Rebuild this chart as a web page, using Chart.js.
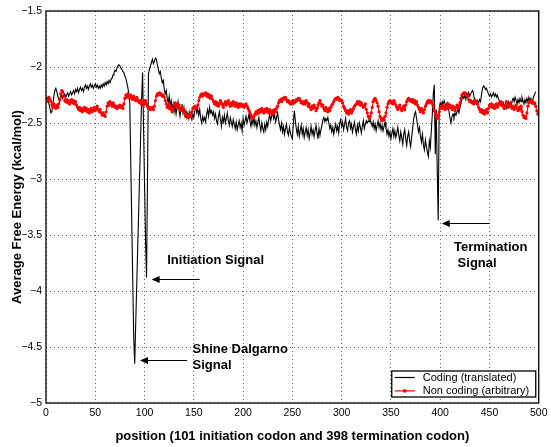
<!DOCTYPE html>
<html>
<head>
<meta charset="utf-8">
<script src="https://cdn.jsdelivr.net/npm/chart.js@4.4.1/dist/chart.umd.min.js"></script>
<style>
  html, body { margin: 0; padding: 0; background: #fff; }
  #wrap { width: 551px; height: 447px; }
</style>
</head>
<body>
<div id="wrap"><canvas id="energyChart" width="551" height="447"></canvas></div>
<script>
// average free energy (kcal/mol), one value per position, starting at position 1
const codingEnergy = [
  -2.32, -2.28, -2.33, -2.37, -2.41, -2.40, -2.33, -2.26, -2.21, -2.19,
  -2.22, -2.26, -2.29, -2.31, -2.28, -2.25, -2.28, -2.25, -2.24, -2.27,
  -2.25, -2.23, -2.26, -2.24, -2.22, -2.25, -2.23, -2.21, -2.24, -2.20,
  -2.22, -2.19, -2.23, -2.20, -2.18, -2.21, -2.19, -2.22, -2.18, -2.16,
  -2.19, -2.17, -2.20, -2.17, -2.15, -2.18, -2.16, -2.19, -2.17, -2.15,
  -2.18, -2.16, -2.19, -2.17, -2.19, -2.16, -2.18, -2.15, -2.17, -2.14,
  -2.16, -2.13, -2.15, -2.12, -2.14, -2.11, -2.10, -2.07, -2.05, -2.03,
  -2.04, -2.01, -1.99, -1.98, -1.99, -2.01, -2.02, -2.04, -2.05, -2.08,
  -2.10, -2.14, -2.18, -2.24, -2.32, -2.85, -3.37, -3.89, -4.41, -4.65,
  -4.30, -3.97, -3.63, -3.30, -2.97, -2.63, -2.30, -2.05, -2.55, -3.05,
  -3.55, -3.88, -2.98, -2.06, -2.02, -1.99, -1.96, -1.93, -1.97, -1.95,
  -1.92, -1.93, -1.98, -2.02, -2.06, -2.04, -2.10, -2.14, -2.12, -2.20,
  -2.24, -2.21, -2.28, -2.32, -2.26, -2.35, -2.30, -2.38, -2.33, -2.40,
  -2.34, -2.42, -2.36, -2.31, -2.39, -2.44, -2.37, -2.33, -2.41, -2.36,
  -2.43, -2.39, -2.45, -2.41, -2.46, -2.40, -2.44, -2.47, -2.42, -2.45,
  -2.39, -2.36, -2.41, -2.37, -2.43, -2.38, -2.46, -2.50, -2.44, -2.48,
  -2.45, -2.49, -2.42, -2.38, -2.44, -2.36, -2.41, -2.39, -2.43, -2.40,
  -2.46, -2.42, -2.48, -2.51, -2.44, -2.40, -2.47, -2.53, -2.45, -2.49,
  -2.43, -2.50, -2.46, -2.41, -2.48, -2.52, -2.45, -2.49, -2.53, -2.47,
  -2.51, -2.55, -2.49, -2.56, -2.52, -2.48, -2.54, -2.50, -2.57, -2.46,
  -2.52, -2.48, -2.44, -2.50, -2.46, -2.42, -2.49, -2.53, -2.47, -2.51,
  -2.45, -2.52, -2.48, -2.54, -2.49, -2.45, -2.52, -2.57, -2.50, -2.55,
  -2.58, -2.51, -2.56, -2.49, -2.53, -2.47, -2.42, -2.48, -2.44, -2.40,
  -2.46, -2.43, -2.49, -2.45, -2.41, -2.47, -2.52, -2.56, -2.50, -2.58,
  -2.53, -2.60, -2.55, -2.51, -2.58, -2.61, -2.54, -2.59, -2.62, -2.64,
  -2.50, -2.39, -2.48, -2.55, -2.60, -2.53, -2.62, -2.57, -2.52, -2.60,
  -2.55, -2.63, -2.58, -2.54, -2.61, -2.56, -2.64, -2.59, -2.53, -2.60,
  -2.56, -2.62, -2.57, -2.52, -2.59, -2.64, -2.55, -2.61, -2.56, -2.52,
  -2.47, -2.45, -2.49, -2.46, -2.48, -2.45, -2.50, -2.55, -2.52, -2.58,
  -2.54, -2.60, -2.55, -2.51, -2.57, -2.53, -2.59, -2.50, -2.47, -2.53,
  -2.49, -2.56, -2.51, -2.46, -2.54, -2.57, -2.50, -2.48, -2.55, -2.51,
  -2.58, -2.53, -2.49, -2.56, -2.60, -2.52, -2.57, -2.50, -2.54, -2.59,
  -2.53, -2.48, -2.55, -2.51, -2.48, -2.50, -2.48, -2.49, -2.47, -2.50,
  -2.53, -2.49, -2.55, -2.51, -2.57, -2.52, -2.48, -2.54, -2.50, -2.56,
  -2.52, -2.57, -2.53, -2.49, -2.55, -2.60, -2.56, -2.62, -2.58, -2.64,
  -2.59, -2.55, -2.62, -2.57, -2.63, -2.59, -2.54, -2.61, -2.66, -2.58,
  -2.63, -2.69, -2.60, -2.56, -2.64, -2.70, -2.62, -2.58, -2.66, -2.71,
  -2.63, -2.55, -2.47, -2.42, -2.40, -2.46, -2.52, -2.58, -2.54, -2.62,
  -2.67, -2.60, -2.70, -2.74, -2.65, -2.71, -2.76, -2.80, -2.66, -2.72,
  -2.57, -2.42, -2.24, -2.16, -2.78, -2.38, -2.92, -3.37, -2.37, -2.32,
  -2.35, -2.31, -2.34, -2.30, -2.33, -2.36, -2.32, -2.35, -2.40, -2.46,
  -2.50, -2.44, -2.42, -2.45, -2.41, -2.43, -2.40, -2.38, -2.41, -2.36,
  -2.33, -2.29, -2.26, -2.28, -2.25, -2.29, -2.24, -2.27, -2.23, -2.26,
  -2.24, -2.22, -2.21, -2.25, -2.31, -2.29, -2.33, -2.30, -2.32, -2.29,
  -2.31, -2.24, -2.19, -2.17, -2.18, -2.20, -2.19, -2.22, -2.24, -2.26,
  -2.24, -2.27, -2.25, -2.23, -2.26, -2.24, -2.27, -2.25, -2.28, -2.30,
  -2.33, -2.31, -2.35, -2.32, -2.36, -2.33, -2.37, -2.34, -2.31, -2.35,
  -2.32, -2.36, -2.30, -2.28, -2.31, -2.27, -2.30, -2.33, -2.29, -2.32,
  -2.28, -2.31, -2.27, -2.30, -2.33, -2.29, -2.32, -2.28, -2.31, -2.27,
  -2.30, -2.28, -2.32, -2.29, -2.26, -2.24, -2.22
];

const nonCodingEnergy = [
  -2.28, -2.30, -2.27, -2.29, -2.31, -2.34, -2.36, -2.33, -2.35, -2.37,
  -2.34, -2.36, -2.33, -2.29, -2.24, -2.21, -2.22, -2.26, -2.30, -2.31,
  -2.29, -2.32, -2.30, -2.33, -2.31, -2.29, -2.32, -2.30, -2.33, -2.31,
  -2.34, -2.36, -2.38, -2.36, -2.39, -2.37, -2.40, -2.38, -2.36, -2.39,
  -2.37, -2.40, -2.38, -2.41, -2.39, -2.37, -2.40, -2.38, -2.36, -2.39,
  -2.37, -2.35, -2.38, -2.40, -2.38, -2.41, -2.43, -2.41, -2.43, -2.44,
  -2.40, -2.35, -2.32, -2.34, -2.31, -2.33, -2.35, -2.32, -2.34, -2.36,
  -2.35, -2.37, -2.35, -2.36, -2.34, -2.36, -2.35, -2.37, -2.33, -2.28,
  -2.25, -2.27, -2.24, -2.26, -2.28, -2.25, -2.27, -2.29, -2.26, -2.28,
  -2.30, -2.27, -2.29, -2.31, -2.32, -2.30, -2.33, -2.31, -2.34, -2.32,
  -2.30, -2.33, -2.35, -2.37, -2.36, -2.38, -2.37, -2.36, -2.38, -2.35,
  -2.30, -2.26, -2.24, -2.25, -2.23, -2.25, -2.24, -2.26, -2.25, -2.27,
  -2.30, -2.33, -2.36, -2.34, -2.37, -2.35, -2.38, -2.40, -2.37, -2.34,
  -2.32, -2.35, -2.33, -2.36, -2.34, -2.37, -2.39, -2.36, -2.38, -2.40,
  -2.42, -2.44, -2.43, -2.45, -2.44, -2.42, -2.44, -2.40, -2.37, -2.36,
  -2.35, -2.37, -2.36, -2.34, -2.30, -2.27, -2.25, -2.24, -2.26, -2.24,
  -2.25, -2.23, -2.26, -2.24, -2.27, -2.25, -2.28, -2.26, -2.29, -2.31,
  -2.33, -2.31, -2.34, -2.32, -2.35, -2.33, -2.30, -2.32, -2.34, -2.36,
  -2.33, -2.31, -2.34, -2.32, -2.30, -2.33, -2.35, -2.32, -2.34, -2.31,
  -2.33, -2.35, -2.32, -2.34, -2.36, -2.33, -2.35, -2.33, -2.35, -2.34,
  -2.36, -2.34, -2.33, -2.35, -2.37, -2.39, -2.41, -2.43, -2.45, -2.46,
  -2.44, -2.42, -2.40, -2.42, -2.39, -2.41, -2.38, -2.40, -2.37, -2.39,
  -2.41, -2.38, -2.40, -2.37, -2.39, -2.41, -2.38, -2.40, -2.42, -2.39,
  -2.41, -2.38, -2.40, -2.37, -2.35, -2.32, -2.30, -2.29, -2.31, -2.28,
  -2.29, -2.27, -2.27, -2.29, -2.31, -2.30, -2.32, -2.33, -2.31, -2.33,
  -2.30, -2.32, -2.31, -2.29, -2.30, -2.28, -2.28, -2.30, -2.32, -2.31,
  -2.33, -2.31, -2.33, -2.30, -2.32, -2.35, -2.33, -2.36, -2.38, -2.35,
  -2.37, -2.34, -2.36, -2.39, -2.37, -2.34, -2.32, -2.30, -2.33, -2.35,
  -2.34, -2.37, -2.39, -2.36, -2.38, -2.40, -2.37, -2.39, -2.36, -2.34,
  -2.33, -2.31, -2.29, -2.28, -2.29, -2.27, -2.28, -2.30, -2.29, -2.30,
  -2.32, -2.35, -2.37, -2.39, -2.41, -2.39, -2.42, -2.40, -2.38, -2.41,
  -2.39, -2.37, -2.35, -2.34, -2.33, -2.31, -2.33, -2.31, -2.34, -2.32,
  -2.34, -2.36, -2.35, -2.33, -2.38, -2.41, -2.44, -2.46, -2.44, -2.41,
  -2.36, -2.31, -2.29, -2.28, -2.30, -2.32, -2.35, -2.40, -2.44, -2.46,
  -2.48, -2.46, -2.47, -2.44, -2.41, -2.36, -2.33, -2.31, -2.30, -2.32,
  -2.31, -2.33, -2.30, -2.32, -2.34, -2.36, -2.38, -2.36, -2.34, -2.37,
  -2.39, -2.37, -2.35, -2.38, -2.34, -2.31, -2.29, -2.28, -2.30, -2.29,
  -2.31, -2.29, -2.32, -2.30, -2.33, -2.31, -2.34, -2.36, -2.38, -2.40,
  -2.37, -2.39, -2.41, -2.38, -2.35, -2.33, -2.31, -2.30, -2.32, -2.30,
  -2.31, -2.33, -2.35, -2.39, -2.42, -2.44, -2.46, -2.43, -2.40, -2.37,
  -2.35, -2.37, -2.34, -2.36, -2.38, -2.35, -2.37, -2.33, -2.36, -2.34,
  -2.36, -2.38, -2.35, -2.37, -2.39, -2.36, -2.34, -2.37, -2.35, -2.32,
  -2.28, -2.25, -2.24, -2.23, -2.23, -2.25, -2.24, -2.26, -2.29, -2.31,
  -2.30, -2.32, -2.31, -2.33, -2.30, -2.32, -2.31, -2.33, -2.36, -2.38,
  -2.40, -2.38, -2.41, -2.39, -2.42, -2.40, -2.38, -2.41, -2.37, -2.34,
  -2.35, -2.33, -2.36, -2.34, -2.37, -2.35, -2.33, -2.36, -2.34, -2.32,
  -2.31, -2.34, -2.32, -2.35, -2.37, -2.34, -2.31, -2.33, -2.36, -2.34,
  -2.32, -2.35, -2.37, -2.35, -2.38, -2.36, -2.34, -2.37, -2.39, -2.36,
  -2.38, -2.35, -2.40, -2.43, -2.45, -2.44, -2.46, -2.41, -2.35, -2.32,
  -2.31, -2.30, -2.32, -2.31, -2.33, -2.32, -2.35, -2.39, -2.42, -2.40
];

const positions = nonCodingEnergy.map((_, i) => i + 1);
const seriesNames = ['Coding (translated)', 'Non coding (arbitrary)'];
const xTicks = [0, 50, 100, 150, 200, 250, 300, 350, 400, 450, 500];
const yTicks = [-5, -4.5, -4, -3.5, -3, -2.5, -2, -1.5];

// arrow notes, placed in data units
const notes = [
  { lines: ['Initiation Signal'], textX: 123, textY: [-3.73], tail: 156, head: 107.2, arrowY: -3.89 },
  { lines: ['Shine Dalgarno', 'Signal'], textX: 148.7, textY: [-4.523, -4.664], tail: 143.2, head: 95.4, arrowY: -4.613 },
  { lines: ['Termination', ' Signal'], textX: 414, textY: [-3.612, -3.755], tail: 450.1, head: 401.6, arrowY: -3.397 }
];

const FONT = "'Liberation Sans', Arial, Helvetica, sans-serif";
Chart.defaults.font.family = FONT;
Chart.defaults.color = '#000';

const minus = v => (v < 0 ? '\u2212' + Math.abs(v) : String(v));

const extras = {
  id: 'extras',
  afterDatasetsDraw(chart) {
    const { ctx, chartArea: a, scales: { x, y } } = chart;
    ctx.save();
    // axes box
    ctx.strokeStyle = '#000';
    ctx.lineWidth = 1.3;
    ctx.strokeRect(a.left, a.top, a.right - a.left, a.bottom - a.top);

    // arrows and their labels
    ctx.fillStyle = '#000';
    ctx.font = 'bold 13px ' + FONT;
    ctx.textBaseline = 'middle';
    ctx.textAlign = 'left';
    notes.forEach(n => {
      const py = Math.round(y.getPixelForValue(n.arrowY)) + 0.5;
      const x0 = x.getPixelForValue(n.tail);
      const x1 = x.getPixelForValue(n.head);
      ctx.lineWidth = 1.2;
      ctx.beginPath();
      ctx.moveTo(x0, py);
      ctx.lineTo(x1 + 6, py);
      ctx.stroke();
      ctx.beginPath();
      ctx.moveTo(x1, py);
      ctx.lineTo(x1 + 8, py - 3.5);
      ctx.lineTo(x1 + 8, py + 3.5);
      ctx.closePath();
      ctx.fill();
      n.lines.forEach((t, i) => {
        ctx.fillText(t, x.getPixelForValue(n.textX), y.getPixelForValue(n.textY[i]));
      });
    });
    ctx.restore();
  },
  afterDraw(chart) {
    const { ctx, chartArea: a, data } = chart;
    const w = 144, h = 26;
    const bx = a.right - 3 - w, by = a.bottom - 6 - h;
    ctx.save();
    ctx.fillStyle = '#fff';
    ctx.fillRect(bx, by, w, h);
    ctx.strokeStyle = '#000';
    ctx.lineWidth = 1.3;
    ctx.strokeRect(bx, by, w, h);
    ctx.font = '11px ' + FONT;
    ctx.textBaseline = 'middle';
    ctx.textAlign = 'left';
    data.datasets.forEach((ds, i) => {
      const ry = by + 6.5 + i * 13.4;
      ctx.strokeStyle = ds.borderColor;
      ctx.lineWidth = 1.2;
      ctx.beginPath();
      ctx.moveTo(bx + 3, ry);
      ctx.lineTo(bx + 23, ry);
      ctx.stroke();
      if (ds.pointRadius > 0) {
        ctx.fillStyle = ds.borderColor;
        ctx.beginPath();
        ctx.arc(bx + 13, ry, 1.8, 0, Math.PI * 2);
        ctx.fill();
      }
      ctx.fillStyle = '#000';
      ctx.fillText(ds.label, bx + 31, ry);
    });
    ctx.restore();
  }
};

new Chart(document.getElementById('energyChart'), {
  type: 'line',
  data: {
    labels: positions,
    datasets: [
      {
        label: seriesNames[0],
        data: codingEnergy,
        borderColor: '#000',
        borderWidth: 1.1,
        pointRadius: 0,
        tension: 0,
        order: 2
      },
      {
        label: seriesNames[1],
        data: nonCodingEnergy,
        borderColor: '#ff0000',
        backgroundColor: '#ff0000',
        borderWidth: 1.1,
        pointRadius: 1.6,
        pointBorderWidth: 0,
        pointBackgroundColor: '#ff0000',
        tension: 0,
        order: 1
      }
    ]
  },
  options: {
    responsive: false,
    animation: false,
    devicePixelRatio: 1,
    layout: { padding: { top: 11, right: 11, left: 0, bottom: 0 } },
    plugins: { legend: { display: false }, tooltip: { enabled: false } },
    scales: {
      x: {
        type: 'linear',
        min: 0,
        max: 500,
        afterBuildTicks: s => { s.ticks = xTicks.map(v => ({ value: v })); },
        afterFit: s => { s.height = 44; },
        ticks: { padding: 3.5, font: { size: 10.5 }, color: '#000', maxRotation: 0 },
        grid: { color: '#666', lineWidth: 1, drawTicks: false },
        border: { display: false, dash: [1, 3] },
        title: {
          display: true,
          text: 'position (101 initiation codon and 398 termination codon)',
          font: { size: 13, weight: 'bold' },
          color: '#000',
          padding: { top: 0, bottom: 2.5 }
        }
      },
      y: {
        min: -5,
        max: -1.5,
        afterBuildTicks: s => { s.ticks = yTicks.map(v => ({ value: v })); },
        afterFit: s => { s.width = 46; },
        ticks: { padding: 4, font: { size: 10.5 }, color: '#000', callback: v => minus(v) },
        grid: { color: '#666', lineWidth: 1, drawTicks: false },
        border: { display: false, dash: [1, 3] },
        title: {
          display: true,
          text: 'Average Free Energy (kcal/mol)',
          font: { size: 13, weight: 'bold' },
          color: '#000',
          padding: { top: 10, bottom: 0 }
        }
      }
    }
  },
  plugins: [extras]
});
</script>
</body>
</html>
